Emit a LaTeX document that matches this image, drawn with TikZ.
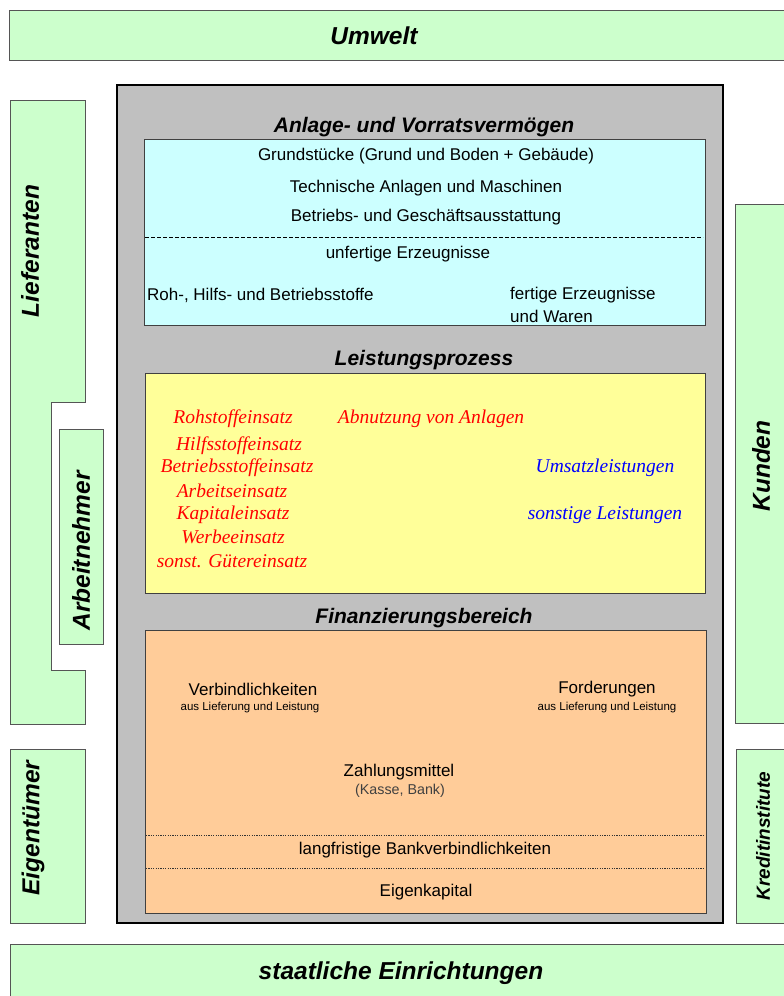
\documentclass[tikz,border=0pt]{standalone}
\usepackage{fontspec}
\setmainfont{Liberation Sans}
\newfontfamily\serifit{Liberation Serif}
\definecolor{grn}{HTML}{CCFFCC}
\definecolor{grayfill}{HTML}{C0C0C0}
\definecolor{cyanfill}{HTML}{CCFFFF}
\definecolor{yelfill}{HTML}{FFFF99}
\definecolor{orafill}{HTML}{FFCC99}
\definecolor{edgegray}{HTML}{555555}
\tikzset{
  greenbox/.style={draw=edgegray, fill=grn, line width=1pt},
  innerbox/.style={draw=black!75, line width=0.9pt},
  biglabel/.style={inner sep=0pt, font=\fontsize{24.5}{28}\selectfont\bfseries\itshape},
  kredlabel/.style={inner sep=0pt, font=\fontsize{19}{22}\selectfont\bfseries\itshape},
  head/.style={inner sep=0pt, font=\fontsize{21}{24}\selectfont\bfseries\itshape},
  txt/.style={inner sep=0pt, font=\fontsize{17}{20}\selectfont},
  smalltxt/.style={inner sep=0pt, font=\fontsize{11.5}{13}\selectfont},
  graytxt/.style={inner sep=0pt, text=black!75, font=\fontsize{14.3}{17}\selectfont},
  redt/.style={inner sep=0pt, text=red, font=\serifit\itshape\fontsize{19.5}{22}\selectfont},
  bluet/.style={inner sep=0pt, text=blue, font=\serifit\itshape\fontsize{19.5}{22}\selectfont}
}
\begin{document}
\begin{tikzpicture}[x=1pt,y=-1pt]
\useasboundingbox (0,0) rectangle (784,996);
\fill[white] (0,0) rectangle (784,996);
% outer green boxes
\draw[greenbox] (9,10) rectangle (792,60);
\node[biglabel] (umwelt) at (374,36) {Umwelt};
\draw[greenbox] (10,100) -- (85,100) -- (85,402) -- (51,402) -- (51,670) -- (85,670) -- (85,724) -- (10,724) -- cycle;
\node[biglabel, rotate=90] (lief) at (30,251) {Lieferanten};
\draw[greenbox] (59,429) rectangle (103,644);
\node[biglabel, rotate=90] (arb) at (81,551) {Arbeitnehmer};
\draw[greenbox] (10,749) rectangle (85,923);
\node[biglabel, rotate=90] (eig) at (33,828) {Eigentümer};
\draw[greenbox] (735,204) rectangle (792,723);
\node[biglabel, rotate=90] (kunden) at (761,466) {Kunden};
\draw[greenbox] (736,749) rectangle (792,923);
\node[kredlabel, rotate=90] (kredit) at (763,836) {Kreditinstitute};
\draw[greenbox] (10,944) rectangle (792,1002);
\node[biglabel] (staat) at (401,973) {staatliche Einrichtungen};
% gray company box
\draw[fill=grayfill, draw=black, line width=2.5pt] (117,85) rectangle (723,923);
% Anlage- und Vorratsvermoegen
\node[head] (h1) at (424,127) {Anlage- und Vorratsvermögen};
\draw[innerbox, fill=cyanfill] (144,139) rectangle (705,325);
\node[txt] (grund) at (426,156) {Grundstücke (Grund und Boden + Gebäude)};
\node[txt] (tech) at (426,188) {Technische Anlagen und Maschinen};
\node[txt] (betr) at (426,217) {Betriebs- und Geschäftsausstattung};
\draw[black, line width=0.6pt, dash pattern=on 4pt off 2pt] (145,237) -- (703,237);
\node[txt] (unf) at (408,254) {unfertige Erzeugnisse};
\node[txt, anchor=west] (roh) at (147,295) {Roh-, Hilfs- und Betriebsstoffe};
\node[txt, anchor=west] (fert) at (510,295) {fertige Erzeugnisse};
\node[txt, anchor=west] (waren) at (510,316) {und Waren};
% Leistungsprozess
\node[head] (h2) at (424,360) {Leistungsprozess};
\draw[innerbox, fill=yelfill] (145,373) rectangle (705,593);
\node[redt] (r1) at (233,419) {Rohstoffeinsatz};
\node[redt] (r0) at (431,419) {Abnutzung von Anlagen};
\node[redt] (r2) at (239,446) {Hilfsstoffeinsatz};
\node[redt] (r3) at (237,468) {Betriebsstoffeinsatz};
\node[redt] (r4) at (232,491) {Arbeitseinsatz};
\node[redt] (r5) at (233,515) {Kapitaleinsatz};
\node[redt] (r6) at (233,537) {Werbeeinsatz};
\node[redt] (r7) at (232,561) {sonst. Gütereinsatz};
\node[bluet] (b1) at (605,468) {Umsatzleistungen};
\node[bluet] (b2) at (605,515) {sonstige Leistungen};
% Finanzierungsbereich
\node[head] (h3) at (424,618) {Finanzierungsbereich};
\draw[innerbox, fill=orafill] (145,630) rectangle (706,913);
\node[txt] (verb) at (253,689) {Verbindlichkeiten};
\node[smalltxt] (verbs) at (250,708) {aus Lieferung und Leistung};
\node[txt] (ford) at (607,689) {Forderungen};
\node[smalltxt] (fords) at (607,708) {aus Lieferung und Leistung};
\node[txt] (zahl) at (399,772) {Zahlungsmittel};
\node[graytxt] (kasse) at (400,791) {(Kasse, Bank)};
\draw[black!80, line width=0.6pt, dash pattern=on 1.2pt off 1.2pt] (146,835) -- (705,835);
\node[txt] (lang) at (425,850) {langfristige Bankverbindlichkeiten};
\draw[black!80, line width=0.6pt, dash pattern=on 1.2pt off 1.2pt] (146,868) -- (705,868);
\node[txt] (eigk) at (426,892) {Eigenkapital};
\end{tikzpicture}
\end{document}
